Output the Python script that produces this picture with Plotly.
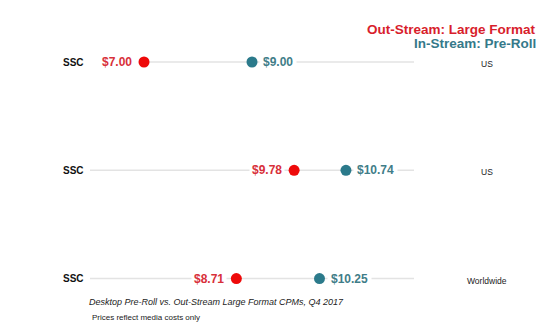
import plotly.graph_objects as go

# ---- data ----
rows = [0, 1, 2]
row_labels = ["SSC", "SSC", "SSC"]
regions = ["US", "US", "Worldwide"]
outstream = [7.00, 9.78, 8.71]      # Out-Stream: Large Format
instream = [9.00, 10.74, 10.25]     # In-Stream: Pre-Roll
line_start = [7.0, 6.0, 6.0]
line_end = [12.0, 12.0, 12.0]
legend_names = ["Out-Stream: Large Format", "In-Stream: Pre-Roll"]
title_text = "Desktop Pre-Roll vs. Out-Stream Large Format CPMs, Q4 2017"
note_text = "Prices reflect media costs only"

RED_DOT = "#ee0a0a"
TEAL_DOT = "#2b7a8b"
RED_TXT = "#d8303a"
TEAL_TXT = "#3f7d88"
FONT = "Liberation Sans, Arial, sans-serif"

fig = go.Figure()

# grey guide lines
for r, a, b in zip(rows, line_start, line_end):
    fig.add_trace(go.Scatter(x=[a, b], y=[r, r], mode="lines",
                             line=dict(color="#e3e3e3", width=1.5),
                             hoverinfo="skip", showlegend=False))

fig.add_trace(go.Scatter(x=outstream, y=rows, mode="markers",
                         marker=dict(color=RED_DOT, size=11),
                         name=legend_names[0], showlegend=False))
fig.add_trace(go.Scatter(x=instream, y=rows, mode="markers",
                         marker=dict(color=TEAL_DOT, size=11),
                         name=legend_names[1], showlegend=False))

ann = []
for r, v in zip(rows, outstream):
    ann.append(dict(x=v, y=r, xref="x", yref="y", text=f"${v:.2f}",
                    xanchor="right", yanchor="middle", xshift=-9, showarrow=False,
                    bgcolor="white", borderpad=2,
                    font=dict(family=FONT, size=12, color=RED_TXT, weight="bold")))
for r, v in zip(rows, instream):
    ann.append(dict(x=v, y=r, xref="x", yref="y", text=f"${v:.2f}",
                    xanchor="left", yanchor="middle", xshift=7, showarrow=False,
                    bgcolor="white", borderpad=3,
                    font=dict(family=FONT, size=12, color=TEAL_TXT, weight="bold")))
for r, t in zip(rows, row_labels):
    ann.append(dict(x=73.5 / 540, y=r, xref="paper", yref="y", text=t,
                    xanchor="center", yanchor="middle", showarrow=False,
                    font=dict(family=FONT, size=10, color="#111111", weight="bold")))
for r, t in zip(rows, regions):
    ann.append(dict(x=487 / 540, y=r, xref="paper", yref="y", text=t,
                    xanchor="center", yanchor="middle", yshift=-2, showarrow=False,
                    font=dict(family=FONT, size=8.5, color="#222222")))

ann.append(dict(x=538 / 540, y=1 - 30 / 324, xref="paper", yref="paper",
                text=legend_names[0], xanchor="right", yanchor="middle", showarrow=False,
                font=dict(family=FONT, size=13.5, color="#d81e2c", weight="bold")))
ann.append(dict(x=538 / 540, y=1 - 44 / 324, xref="paper", yref="paper",
                text=legend_names[1], xanchor="right", yanchor="middle", showarrow=False,
                font=dict(family=FONT, size=13.5, color="#35798a", weight="bold")))
ann.append(dict(x=87 / 540, y=1 - 302 / 324, xref="paper", yref="paper",
                text=f"<i>{title_text}</i>", xanchor="left", yanchor="middle", showarrow=False,
                font=dict(family=FONT, size=9, color="#222222")))
ann.append(dict(x=90 / 540, y=1 - 317 / 324, xref="paper", yref="paper",
                text=note_text, xanchor="left", yanchor="middle", showarrow=False,
                font=dict(family=FONT, size=8, color="#222222")))

fig.update_layout(
    width=540, height=324,
    margin=dict(l=0, r=0, t=0, b=0),
    paper_bgcolor="white", plot_bgcolor="white",
    xaxis=dict(range=[7 - 144 / 54, 7 + 396 / 54], visible=False, fixedrange=True),
    yaxis=dict(range=[(324 - 62) / 108.3, -62 / 108.3], visible=False, fixedrange=True),
    annotations=ann,
    showlegend=False,
)

fig.write_html("out.html")
